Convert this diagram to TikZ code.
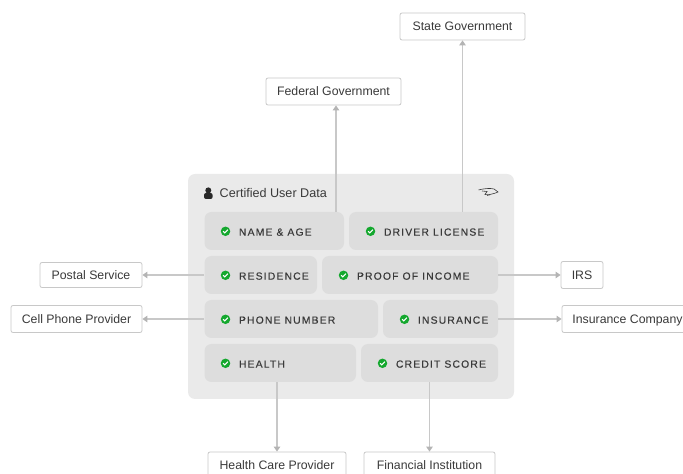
\documentclass[tikz,border=0pt]{standalone}
\usepackage{fontspec}
\setmainfont{Liberation Sans}
\newfontfamily\chipfont[LetterSpace=11,FakeBold=0.3]{Liberation Sans}
\usetikzlibrary{positioning,arrows.meta}
\definecolor{panelgray}{HTML}{EAEAEA}
\definecolor{chipgray}{HTML}{DDDDDD}
\definecolor{wiregray}{HTML}{C8C8C8}
\definecolor{tipgray}{HTML}{B4B4B4}
\definecolor{okgreen}{HTML}{14A82E}
\definecolor{inkgray}{HTML}{3A3A3A}
\tikzset{
	partner/.style={draw=wiregray, fill=white, rounded corners=2pt, line width=0.8pt, minimum height=27pt, inner sep=0pt, text height=11pt, text depth=2.6pt, font=\fontsize{12.3}{14}\selectfont, text=inkgray},
	chip/.style={fill=chipgray, rounded corners=7pt, minimum height=38pt, inner sep=0pt},
	okdot/.style={circle, fill=okgreen, minimum size=9.5pt, inner sep=0pt, path picture={\draw[white, line width=1.1pt] ([shift={(-2.4pt,0.1pt)}]path picture bounding box.center) -- ++(1.7pt,-1.7pt) -- ++(3pt,3.2pt);}},
	chiplabel/.style={inner sep=0pt, yshift=-0.8pt, font=\chipfont\fontsize{10.4}{12}\selectfont, text=inkgray},
	wire/.style={draw=wiregray, line width=1.1pt, {Triangle[length=5pt,width=6.5pt,color=tipgray]}-},
}
\begin{document}
\begin{tikzpicture}
	\useasboundingbox (0,0) rectangle (683pt,474pt);
	\clip (0,0) rectangle (683pt,474pt);
	\fill[panelgray, rounded corners=7pt] (188pt,75pt) rectangle (514pt,300pt);
	% header
	\fill[inkgray!70!black] (208.3pt,283.6pt) circle (3pt);
	\fill[inkgray!70!black, rounded corners=2pt] (204pt,275pt) rectangle (212.6pt,281pt);
	\node[inner sep=0pt, anchor=west, text=inkgray, font=\fontsize{12.6}{14}\selectfont] (title) at (219.5pt,281pt) {Certified User Data};
	\draw[inkgray, line width=0.6pt] (478.5pt,284pt) .. controls (484pt,285.5pt) and (490pt,286pt) .. (494pt,285pt) -- (498pt,282pt) .. controls (494pt,280pt) and (490pt,280pt) .. (487pt,278.5pt);
	\draw[inkgray, line width=0.6pt] (482pt,283pt) -- (487pt,282.5pt) -- (485pt,279.5pt) -- (490pt,279pt);
	% chips
	\node[chip, minimum width=139.5pt] (namechip) at (274.25pt,243pt) {};
	\node[chip, minimum width=149pt] (licensechip) at (423.5pt,243pt) {};
	\node[chip, minimum width=112.5pt] (residencechip) at (260.75pt,199pt) {};
	\node[chip, minimum width=176pt] (incomechip) at (410pt,199pt) {};
	\node[chip, minimum width=173.5pt] (phonechip) at (291.25pt,155pt) {};
	\node[chip, minimum width=115pt] (insurancechip) at (440.5pt,155pt) {};
	\node[chip, minimum width=151.5pt] (healthchip) at (280.25pt,111pt) {};
	\node[chip, minimum width=137pt] (creditchip) at (429.5pt,111pt) {};
	% chip contents
	\node[okdot] (nameok) at (225.5pt,242.7pt) {};
	\node[chiplabel, right=8.3pt of nameok] (namelabel) {NAME \& AGE};
	\node[okdot] (licenseok) at (370.5pt,242.7pt) {};
	\node[chiplabel, right=8.3pt of licenseok] (licenselabel) {DRIVER LICENSE};
	\node[okdot] (residenceok) at (225.5pt,198.7pt) {};
	\node[chiplabel, right=8.3pt of residenceok] (residencelabel) {RESIDENCE};
	\node[okdot] (incomeok) at (343.5pt,198.7pt) {};
	\node[chiplabel, right=8.3pt of incomeok] (incomelabel) {PROOF OF INCOME};
	\node[okdot] (phoneok) at (225.5pt,154.7pt) {};
	\node[chiplabel, right=8.3pt of phoneok] (phonelabel) {PHONE NUMBER};
	\node[okdot] (insuranceok) at (404.5pt,154.7pt) {};
	\node[chiplabel, right=8.3pt of insuranceok] (insurancelabel) {INSURANCE};
	\node[okdot] (healthok) at (225.5pt,110.7pt) {};
	\node[chiplabel, right=8.3pt of healthok] (healthlabel) {HEALTH};
	\node[okdot] (creditok) at (382.5pt,110.7pt) {};
	\node[chiplabel, right=8.3pt of creditok] (creditlabel) {CREDIT SCORE};
	% outside parties
	\node[partner, minimum width=135pt] (federal) at (333.5pt,382.5pt) {Federal Government};
	\node[partner, minimum width=125pt] (state) at (462.5pt,447.5pt) {State Government};
	\node[partner, minimum width=102pt, minimum height=25pt] (postal) at (91pt,199pt) {Postal Service};
	\node[partner, minimum width=131pt] (cell) at (76.5pt,155pt) {Cell Phone Provider};
	\node[partner, minimum width=42pt] (irs) at (582pt,199pt) {IRS};
	\node[partner, minimum width=131pt] (insurer) at (627.5pt,155pt) {Insurance Company};
	\node[partner, minimum width=138pt] (provider) at (277pt,8.5pt) {Health Care Provider};
	\node[partner, minimum width=131pt] (bank) at (429.5pt,8.5pt) {Financial Institution};
	% connectors
	\draw[wire] ([xshift=2.5pt]federal.south) -- ([xshift=2.5pt]federal.south |- namechip.north);
	\draw[wire] (state.south) -- (state.south |- licensechip.north);
	\draw[wire] (postal.east) -- (residencechip.west);
	\draw[wire] (cell.east) -- (phonechip.west);
	\draw[wire] (irs.west) -- (incomechip.east);
	\draw[wire] (insurer.west) -- (insurancechip.east);
	\draw[wire] (provider.north) -- (provider.north |- healthchip.south);
	\draw[wire] (bank.north) -- (bank.north |- creditchip.south);
\end{tikzpicture}
\end{document}
